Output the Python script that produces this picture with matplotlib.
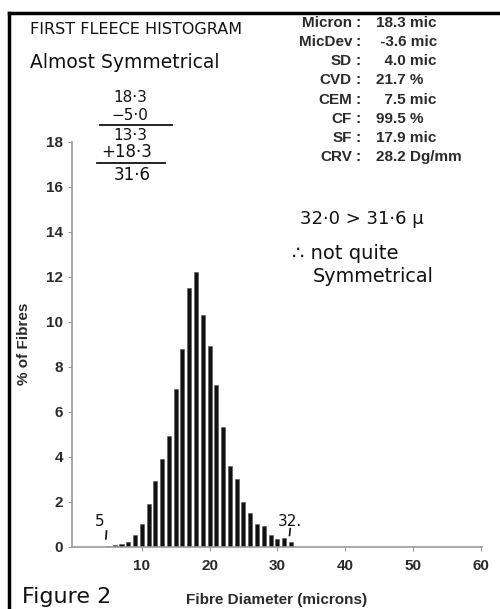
import matplotlib
import matplotlib.pyplot as plt
from matplotlib.lines import Line2D

matplotlib.use("Agg")

# fibre diameter histogram (% of fibres per micron class)
microns = list(range(5, 33))
pct_fibres = [0.05, 0.07, 0.1, 0.2, 0.5, 1.0, 1.9, 2.9, 3.9, 4.9,
              7.0, 8.8, 11.5, 12.2, 10.3, 8.9, 7.2, 5.3, 3.6, 3.0,
              2.0, 1.5, 1.0, 0.9, 0.5, 0.35, 0.4, 0.2]

stat_names = ["Micron", "MicDev", "SD", "CVD", "CEM", "CF", "SF", "CRV"]
stat_values = ["18.3 mic", " -3.6 mic", "  4.0 mic", "21.7 %", "  7.5 mic",
               "99.5 %", "17.9 mic", "28.2 Dg/mm"]

x_ticks = [10, 20, 30, 40, 50, 60]
y_ticks = list(range(0, 19, 2))

plt.rcParams["font.family"] = ["Liberation Sans", "DejaVu Sans"]

fig = plt.figure(figsize=(5.0, 6.09), dpi=100)
ax = fig.add_axes([0.144, 0.1023, 0.82, 0.665])

ax.bar(microns, pct_fibres, width=0.6, color="#111111", edgecolor="#555555", linewidth=0.4)

ax.set_xlim(-0.3, 60.2)
ax.set_ylim(0, 18)
ax.set_xticks(x_ticks)
ax.set_yticks(y_ticks)
ax.tick_params(axis="both", labelsize=11, colors="#999999", labelcolor="#2a2a2a",
               length=3, width=0.8)
ax.tick_params(axis="x", pad=6)
for lbl in ax.get_xticklabels() + ax.get_yticklabels():
    lbl.set_fontweight("bold")
for side in ("top", "right"):
    ax.spines[side].set_visible(False)
for side in ("left", "bottom"):
    ax.spines[side].set_color("#999999")
    ax.spines[side].set_linewidth(1.2)

ax.set_xlabel("Fibre Diameter (microns)", fontsize=11, fontweight="bold",
              color="#2a2a2a", labelpad=14)
ax.set_ylabel("% of Fibres", fontsize=11, fontweight="bold", color="#2a2a2a", labelpad=11)

# stats block, top right
for i, (name, val) in enumerate(zip(stat_names, stat_values)):
    y = 1 - (22.7 + i * 19.2) / 609
    fig.text(352 / 500, y, name, ha="right", va="center", fontsize=11,
             fontweight="bold", color="#2a2a2a")
    fig.text(358 / 500, y, ":", ha="center", va="center", fontsize=11,
             fontweight="bold", color="#2a2a2a")
    fig.text(376 / 500, y, val, ha="left", va="center", fontsize=11,
             fontweight="bold", color="#2a2a2a")

# handwritten notes
hand = dict(color="#111111", family=["DejaVu Sans"])
fig.text(30 / 500, 1 - 30 / 609, "FIRST FLEECE HISTOGRAM", ha="left", va="center", fontsize=11.5, **hand)
fig.text(30 / 500, 1 - 62 / 609, "Almost Symmetrical", ha="left", va="center", fontsize=13.5, **hand)
fig.text(130 / 500, 1 - 98 / 609, "18·3", ha="center", va="center", fontsize=11, **hand)
fig.text(130 / 500, 1 - 116 / 609, "−5·0", ha="center", va="center", fontsize=11, **hand)
fig.add_artist(Line2D([100 / 500, 172 / 500], [1 - 125 / 609] * 2, color="#111111", lw=1.3))
fig.text(130 / 500, 1 - 135 / 609, "13·3", ha="center", va="center", fontsize=11, **hand)
fig.text(127 / 500, 1 - 152 / 609, "+18·3", ha="center", va="center", fontsize=12, **hand)
fig.add_artist(Line2D([97 / 500, 165 / 500], [1 - 163 / 609] * 2, color="#111111", lw=1.3))
fig.text(132 / 500, 1 - 175 / 609, "31·6", ha="center", va="center", fontsize=12, **hand)

fig.text(300 / 500, 1 - 219 / 609, "32·0 > 31·6 μ", ha="left", va="center", fontsize=13, **hand)
fig.text(292 / 500, 1 - 253 / 609, "∴ not quite", ha="left", va="center", fontsize=14, **hand)
fig.text(313 / 500, 1 - 277 / 609, "Symmetrical", ha="left", va="center", fontsize=13.8, **hand)

fig.text(22 / 500, 1 - 597 / 609, "Figure 2", ha="left", va="center", fontsize=16, **hand)

# marks at 5 and 32 microns
ax.text(3.8, 1.1, "5", ha="center", va="center", fontsize=11, color="#111111",
        family=["DejaVu Sans"])
ax.plot([4.7, 4.8], [0.35, 0.7], color="#111111", lw=1.2)
ax.text(31.8, 1.1, "32.", ha="center", va="center", fontsize=11, color="#111111",
        family=["DejaVu Sans"])
ax.plot([31.8, 31.9], [0.5, 0.8], color="#111111", lw=1.2)

# frame around the figure (left and top edges visible)
fig.add_artist(Line2D([9 / 500, 9 / 500], [0, 1 - 13 / 609], color="black", lw=2.5))
fig.add_artist(Line2D([9 / 500, 1], [1 - 13 / 609] * 2, color="black", lw=2.5))

fig.savefig("out.png", dpi=100)
plt.close(fig)
